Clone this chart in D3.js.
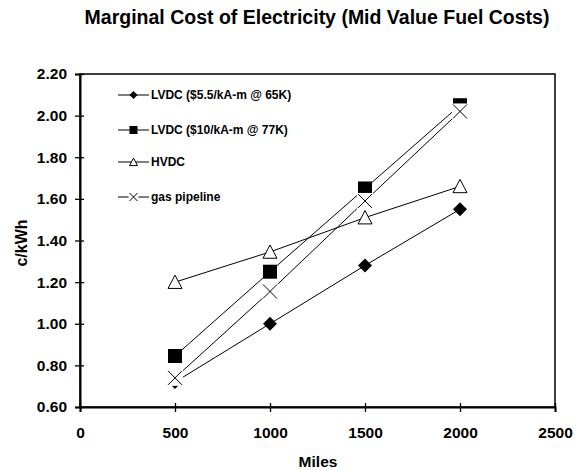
<!DOCTYPE html>
<html>
<head>
<meta charset="utf-8">
<script src="https://cdnjs.cloudflare.com/ajax/libs/d3/7.8.5/d3.min.js"></script>
<style>
  body { margin: 0; background: #fff; }
  svg text { font-family: "Liberation Sans", Arial, sans-serif; font-weight: bold; fill: #000; }
</style>
</head>
<body>
<svg width="576" height="470"></svg>
<script>
var miles = [500, 1000, 1500, 2000];
var lvdc55 = [0.72, 1.00, 1.28, 1.55];
var lvdc10 = [0.845, 1.25, 1.65, 2.05];
var hvdc = [1.20, 1.345, 1.51, 1.66];
var gas = [0.74, 1.155, 1.59, 2.02];
var seriesNames = ["LVDC ($5.5/kA-m @ 65K)", "LVDC ($10/kA-m @ 77K)", "HVDC", "gas pipeline"];
var seriesShapes = ["diamond", "square", "triangle", "cross"];
var xTicks = [0, 500, 1000, 1500, 2000, 2500];
var yTicks = [0.6, 0.8, 1.0, 1.2, 1.4, 1.6, 1.8, 2.0, 2.2];

var series = [lvdc55, lvdc10, hvdc, gas].map(function(vals, i) {
    return { name: seriesNames[i], shape: seriesShapes[i], values: vals };
});

var svg = d3.select("svg"),
    plotL = 80, plotR = 555, plotT = 74, plotB = 407;

var x = d3.scaleLinear().domain([0, 2500]).range([plotL, plotR]);
var y = d3.scaleLinear().domain([0.6, 2.2]).range([plotB, plotT]);

// title
svg.append("text")
    .attr("x", 317).attr("y", 24)
    .attr("text-anchor", "middle")
    .style("font-size", "19.5px")
    .text("Marginal Cost of Electricity (Mid Value Fuel Costs)");

// plot frame
svg.append("rect")
    .attr("x", plotL).attr("y", plotT)
    .attr("width", plotR - plotL).attr("height", plotB - plotT)
    .attr("fill", "none").attr("stroke", "#000").attr("stroke-width", 1.5);

// axes
var xAxis = svg.append("g")
    .attr("transform", "translate(0," + plotB + ")")
    .call(d3.axisBottom(x).tickValues(xTicks).tickSize(5).tickPadding(15).tickFormat(d3.format("d")));
xAxis.selectAll(".tick line").attr("y1", -4).attr("stroke-width", 1.3);
xAxis.select(".domain").attr("stroke-width", 2);
xAxis.selectAll("text").style("font-size", "15.5px").attr("font-family", null);

var yAxis = svg.append("g")
    .attr("transform", "translate(" + plotL + ",0)")
    .call(d3.axisLeft(y).tickValues(yTicks).tickSize(5).tickPadding(8).tickFormat(d3.format(".2f")));
yAxis.selectAll(".tick line").attr("x1", 4).attr("x2", -5).attr("stroke-width", 1.3);
yAxis.select(".domain").attr("stroke-width", 2);
yAxis.selectAll("text").style("font-size", "15.5px").attr("font-family", null);

svg.append("text")
    .attr("x", 318).attr("y", 467)
    .attr("text-anchor", "middle")
    .style("font-size", "15.5px")
    .text("Miles");

svg.append("text")
    .attr("transform", "translate(27,243) rotate(-90)")
    .attr("text-anchor", "middle")
    .style("font-size", "16px")
    .text("c/kWh");

function drawMarker(g, shape, cx, cy, s) {
    if (shape == "diamond") {
        g.append("path")
            .attr("d", "M" + cx + "," + (cy - s) + "L" + (cx + s) + "," + cy + "L" + cx + "," + (cy + s) + "L" + (cx - s) + "," + cy + "Z")
            .attr("fill", "#000");
    } else if (shape == "square") {
        g.append("rect")
            .attr("x", cx - s).attr("y", cy - s).attr("width", 2 * s).attr("height", 2 * s)
            .attr("fill", "#000");
    } else if (shape == "triangle") {
        g.append("path")
            .attr("d", "M" + cx + "," + (cy - s) + "L" + (cx + s) + "," + (cy + s * 0.9) + "L" + (cx - s) + "," + (cy + s * 0.9) + "Z")
            .attr("fill", "#fff").attr("stroke", "#000").attr("stroke-width", 1);
    } else {
        g.append("rect")
            .attr("x", cx - s - 1).attr("y", cy - s - 1).attr("width", 2 * s + 2).attr("height", 2 * s + 2)
            .attr("fill", "#fff");
        g.append("path")
            .attr("d", "M" + (cx - s) + "," + (cy - s) + "L" + (cx + s) + "," + (cy + s) + "M" + (cx + s) + "," + (cy - s) + "L" + (cx - s) + "," + (cy + s))
            .attr("stroke", "#000").attr("stroke-width", 1).attr("fill", "none");
    }
}

var line = d3.line()
    .x(function(d, i) { return x(miles[i]); })
    .y(function(d) { return y(d); });

series.forEach(function(s) {
    var g = svg.append("g");
    g.append("path")
        .attr("d", line(s.values))
        .attr("fill", "none").attr("stroke", "#000").attr("stroke-width", 1);
    s.values.forEach(function(v, i) {
        drawMarker(g, s.shape, x(miles[i]), y(v), 7);
    });
});

// legend
var legendY = [95, 130, 162, 197];
series.forEach(function(s, i) {
    var g = svg.append("g");
    g.append("line")
        .attr("x1", 118).attr("x2", 149)
        .attr("y1", legendY[i]).attr("y2", legendY[i])
        .attr("stroke", "#000").attr("stroke-width", 1);
    drawMarker(g, s.shape, 133.5, legendY[i], 4);
    g.append("text")
        .attr("x", 151).attr("y", legendY[i] + 4)
        .style("font-size", "12px")
        .text(s.name);
});
</script>
</body>
</html>
